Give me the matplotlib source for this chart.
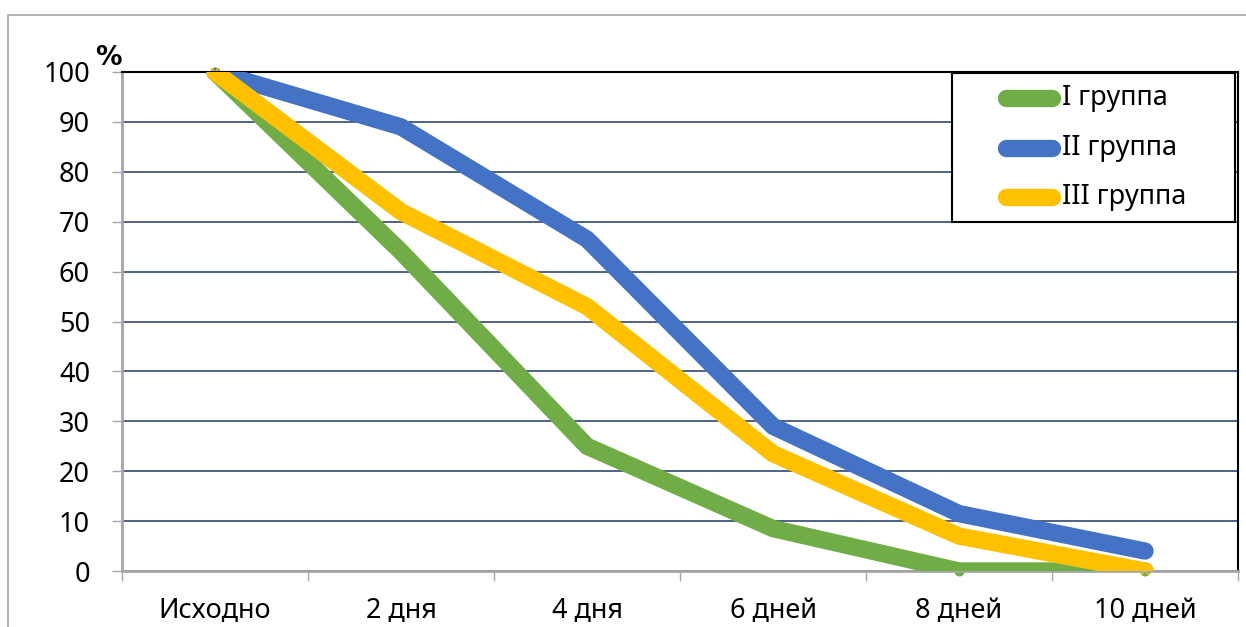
import matplotlib.pyplot as plt
from matplotlib.patches import Rectangle

plt.rcParams['font.family'] = ['Noto Sans', 'DejaVu Sans']

days = ['Исходно', '2 дня', '4 дня', '6 дней', '8 дней', '10 дней']
group1 = [100, 64, 25, 8.5, 0, 0]
group2 = [100, 89, 66.5, 29, 11.5, 4]
group3 = [100, 72, 53, 23.5, 7, 0]
names = ['I группа', 'II группа', 'III группа']
colors = ['#70AD47', '#4472C4', '#FFC000']

W, H = 1246, 627
fig = plt.figure(figsize=(W / 100, H / 100), dpi=100)
ax = fig.add_axes([122 / W, 1 - 571 / H, 1116 / W, 499 / H])

# outer chart frame
fig.patches.append(Rectangle((8 / W, -0.1), 1.2, 1 - 15 / H + 0.1,
                             transform=fig.transFigure, fill=False,
                             edgecolor='#A6A6A6', linewidth=1.2))

lw = 12.5
fs = 19.5
x = range(len(days))
markers = ['o', '^', 'x']
for vals, c, m in zip([group1, group2, group3], colors, markers):
    ax.plot(x, vals, color=c, linewidth=lw, solid_capstyle='round',
            solid_joinstyle='round', zorder=3)
    ax.plot(x, vals, linestyle='none', marker=m, markersize=6, color=c,
            markeredgewidth=1.2, clip_on=False, zorder=2)

ax.set_xlim(-0.5, 5.5)
ax.set_ylim(0, 100)
ax.set_yticks(range(0, 101, 10))
ax.set_xticks(list(x))
ax.set_xticklabels(days)
ax.set_xticks([i - 0.5 for i in range(7)], minor=True)
ax.tick_params(axis='x', which='major', length=0, pad=19, labelsize=fs)
ax.tick_params(axis='x', which='minor', length=7, width=1, color='#A6A6A6')
ax.tick_params(axis='y', length=7, width=1, color='#A6A6A6', pad=16, labelsize=fs)

ax.grid(axis='y', color='#1F3864', linewidth=1.1)
ax.set_axisbelow(True)
for s in ['left', 'bottom']:
    ax.spines[s].set_color('#A6A6A6')
    ax.spines[s].set_linewidth(2)
for s in ['top', 'right']:
    ax.spines[s].set_color('black')
    ax.spines[s].set_linewidth(1.5)

fig.text(108 / W, 1 - 58 / H, '%', fontsize=19, fontweight='bold',
         family='DejaVu Sans', ha='center', va='center')

# legend box drawn by hand in axes coordinates
def ax_x(px):
    return (px - 122) / 1116

def ax_y(py):
    return (571 - py) / 499

ax.add_patch(Rectangle((ax_x(952), ax_y(222)), ax_x(1235) - ax_x(952),
                       ax_y(73) - ax_y(222), transform=ax.transAxes,
                       facecolor='white', edgecolor='black', linewidth=1.5,
                       zorder=5, clip_on=False))
for i, (name, c) in enumerate(zip(names, colors)):
    yy = ax_y(98 + 49.5 * i)
    ax.plot([ax_x(1006), ax_x(1052)], [yy, yy], color=c, linewidth=lw,
            solid_capstyle='round', transform=ax.transAxes, zorder=6,
            clip_on=False)
    ax.text(ax_x(1062), yy, name, fontsize=fs, va='center', ha='left',
            transform=ax.transAxes, zorder=7)

fig.savefig('out.png', dpi=100)
